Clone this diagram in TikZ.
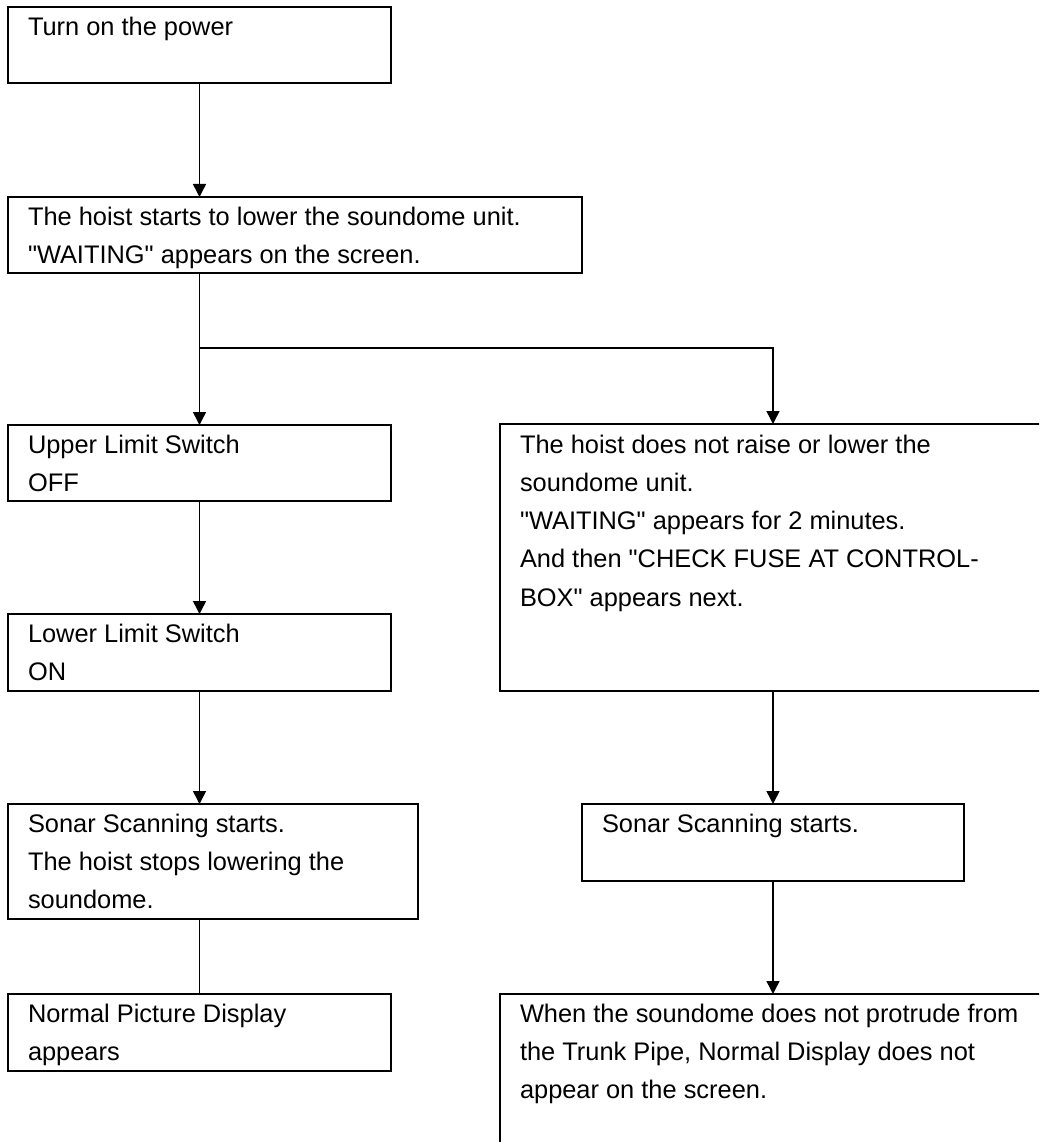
\documentclass[tikz,border=0pt]{standalone}
\usepackage{fontspec}
\setmainfont{Liberation Sans}[Ligatures=TeXOff]
\usetikzlibrary{arrows.meta,calc}
\begin{document}
\begin{tikzpicture}[x=1pt,y=-1pt,
  box/.style={draw, line width=1.8pt, inner sep=0pt, outer sep=0pt, anchor=north west},
  txt/.style={inner sep=0pt, outer sep=0pt, anchor=base west,
    font=\fontsize{25.4pt}{38.3pt}\selectfont},
  link/.style={line width=1.5pt},
  arr/.style={link, -{Triangle[width=13pt,length=13pt]}}]
\useasboundingbox (0,0) rectangle (1039,1142);
\clip (0,0) rectangle (1039,1142);

% left column boxes
\node[box, minimum width=383pt, minimum height=76pt] (b1) at (8,7) {};
\node[box, minimum width=574pt, minimum height=76pt] (b2) at (8,197) {};
\node[box, minimum width=383pt, minimum height=76pt] (b3) at (8,425) {};
\node[box, minimum width=383pt, minimum height=77pt] (b5) at (8,614) {};
\node[box, minimum width=410pt, minimum height=115pt] (b6) at (8,804) {};
\node[box, minimum width=383pt, minimum height=77pt] (b8) at (8,994) {};

% right column boxes (running past the right and bottom edges)
\node[box, minimum width=560pt, minimum height=267pt] (r1) at (500,424) {};
\node[box, minimum width=382pt, minimum height=77pt] (rs) at (582,804) {};
\node[box, minimum width=560pt, minimum height=170pt] (r2) at (500,994) {};

% box texts: each is a \vtop so the anchor sits on the first baseline
\node[txt] (t1) at ($(b1.north west)+(20,29)$) {\vtop{\hbox{Turn on the power}}};
\node[txt] (t2) at ($(b2.north west)+(20,28)$) {\vtop{\hbox{The hoist starts to lower the soundome unit.}\hbox{"WAITING" appears on the screen.}}};
\node[txt] (t3) at ($(b3.north west)+(20,28)$) {\vtop{\hbox{Upper Limit Switch}\hbox{OFF}}};
\node[txt] (t5) at ($(b5.north west)+(20,28)$) {\vtop{\hbox{Lower Limit Switch}\hbox{ON}}};
\node[txt] (t6) at ($(b6.north west)+(20,28)$) {\vtop{\hbox{Sonar Scanning starts.}\hbox{The hoist stops lowering the}\hbox{soundome.}}};
\node[txt] (t8) at ($(b8.north west)+(20,28)$) {\vtop{\hbox{Normal Picture Display}\hbox{appears}}};
\node[txt] (tr1) at ($(r1.north west)+(20,29)$) {\vtop{\hbox{The hoist does not raise or lower the}\hbox{soundome unit.}\hbox{"WAITING" appears for 2 minutes.}\hbox{And then "CHECK FUSE AT CONTROL-}\hbox{BOX" appears next.}}};
\node[txt] (trs) at ($(rs.north west)+(20,28)$) {\vtop{\hbox{Sonar Scanning starts.}}};
\node[txt] (tr2) at ($(r2.north west)+(20,28)$) {\vtop{\hbox{When the soundome does not protrude from}\hbox{the Trunk Pipe, Normal Display does not}\hbox{appear on the screen.}}};

% connectors
\coordinate (split) at ($(b3.north |- b2.south)+(0,75)$);
\draw[arr] (b1.south) -- (b2.north -| b1.south);
\draw[arr] (b2.south -| b3.north) -- (b3.north);
\draw[arr] (split) -| (r1.north -| rs.north);
\draw[arr] (b3.south) -- (b5.north);
\draw[arr] (b5.south) -- (b6.north -| b5.south);
\draw[link] (b6.south -| b8.north) -- (b8.north);
\draw[arr] (r1.south -| rs.north) -- (rs.north);
\draw[arr] (rs.south) -- (r2.north -| rs.south);
\end{tikzpicture}
\end{document}
